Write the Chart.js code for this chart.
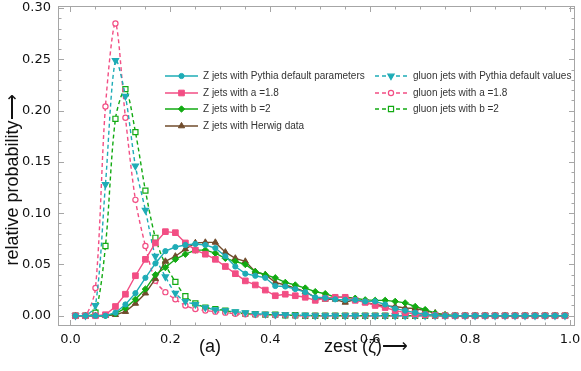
<!DOCTYPE html>
<html lang="en">
<head>
<meta charset="UTF-8">
<title>zest distributions</title>
<script src="https://cdn.jsdelivr.net/npm/chart.js"></script>
<style>
  html, body { margin: 0; padding: 0; background: #fff; }
  #wrap { width: 581px; height: 371px; }
</style>
</head>
<body>
<div id="wrap"><canvas id="c" width="581" height="371"></canvas></div>
<script>
// bin centres (zest)
const zest = [0.01, 0.03, 0.05, 0.07, 0.09, 0.11, 0.13, 0.15, 0.17, 0.19,
              0.21, 0.23, 0.25, 0.27, 0.29, 0.31, 0.33, 0.35, 0.37, 0.39,
              0.41, 0.43, 0.45, 0.47, 0.49, 0.51, 0.53, 0.55, 0.57, 0.59,
              0.61, 0.63, 0.65, 0.67, 0.69, 0.71, 0.73, 0.75, 0.77, 0.79,
              0.81, 0.83, 0.85, 0.87, 0.89, 0.91, 0.93, 0.95, 0.97, 0.99];

// Z jets (solid)
const zPythia = [0, 0, 0, 0, 0.003, 0.011, 0.022, 0.037, 0.051, 0.063,
                 0.067, 0.069, 0.070, 0.069, 0.066, 0.058, 0.048, 0.041, 0.039, 0.037,
                 0.029, 0.0285, 0.026, 0.023, 0.018, 0.0175, 0.016, 0.0155, 0.0155, 0.014,
                 0.014, 0.011, 0.007, 0.005, 0.003, 0.0015, 0.0005, 0, 0, 0,
                 0, 0, 0, 0, 0, 0, 0, 0, 0, 0];
const zA18 = [0, 0, 0, 0.001, 0.009, 0.021, 0.039, 0.055, 0.071, 0.082,
              0.081, 0.071, 0.064, 0.060, 0.055, 0.048, 0.041, 0.034, 0.030, 0.025,
              0.0195, 0.021, 0.0195, 0.018, 0.015, 0.017, 0.018, 0.018, 0.015, 0.013,
              0.010, 0.008, 0.005, 0.003, 0.002, 0.001, 0.0005, 0, 0, 0,
              0, 0, 0, 0, 0, 0, 0, 0, 0, 0];
const zB2 = [0, 0, 0, 0, 0.002, 0.0075, 0.016, 0.026, 0.040, 0.047,
             0.055, 0.060, 0.064, 0.064, 0.061, 0.056, 0.053, 0.050, 0.043, 0.040,
             0.037, 0.0325, 0.030, 0.027, 0.0235, 0.0215, 0.018, 0.018, 0.017, 0.0155,
             0.015, 0.015, 0.014, 0.0125, 0.009, 0.006, 0.0026, 0.001, 0, 0,
             0, 0, 0, 0, 0, 0, 0, 0, 0, 0];
const zHerwig = [0, 0, 0, 0, 0.001, 0.004, 0.012, 0.022, 0.036, 0.053,
                 0.058, 0.065, 0.071, 0.0715, 0.0715, 0.062, 0.056, 0.053, 0.043, 0.040,
                 0.0325, 0.030, 0.027, 0.0235, 0.018, 0.016, 0.016, 0.013, 0.016, 0.013,
                 0.011, 0.0095, 0.009, 0.0075, 0.007, 0.005, 0.0026, 0.0005, 0, 0,
                 0, 0, 0, 0, 0, 0, 0, 0, 0, 0];

// gluon jets (dashed)
const gPythia = [0, 0, 0.010, 0.128, 0.249, 0.214, 0.146, 0.103, 0.058, 0.038,
                 0.022, 0.014, 0.011, 0.008, 0.006, 0.005, 0.004, 0.003, 0.002, 0.0015,
                 0.001, 0.001, 0.0005, 0.0005, 0, 0, 0, 0, 0, 0,
                 0, 0, 0, 0, 0, 0, 0, 0, 0, 0,
                 0, 0, 0, 0, 0, 0, 0, 0, 0, 0];
const gA18 = [0, 0, 0.027, 0.204, 0.285, 0.193, 0.113, 0.068, 0.034, 0.023,
              0.016, 0.010, 0.0065, 0.005, 0.004, 0.003, 0.002, 0.0015, 0.001, 0.001,
              0.0005, 0.0005, 0, 0, 0, 0, 0, 0, 0, 0,
              0, 0, 0, 0, 0, 0, 0, 0, 0, 0,
              0, 0, 0, 0, 0, 0, 0, 0, 0, 0];
const gB2 = [0, 0, 0.003, 0.068, 0.192, 0.221, 0.179, 0.122, 0.076, 0.050,
             0.033, 0.019, 0.012, 0.008, 0.0065, 0.005, 0.003, 0.002, 0.0015, 0.001,
             0.001, 0.0005, 0.0005, 0, 0, 0, 0, 0, 0, 0,
             0, 0, 0, 0, 0, 0, 0, 0, 0, 0,
             0, 0, 0, 0, 0, 0, 0, 0, 0, 0];

const seriesLabels = ['Z jets with Pythia default parameters', 'Z jets with a =1.8',
                      'Z jets with b =2', 'Z jets with Herwig data',
                      'gluon jets with Pythia default values', 'gluon jets with a =1.8',
                      'gluon jets with b =2'];

const xTicks = [0, 0.2, 0.4, 0.6, 0.8, 1.0];
const yTicks = [0, 0.05, 0.10, 0.15, 0.20, 0.25, 0.30];
const xMinor = [0.05, 0.1, 0.15, 0.25, 0.3, 0.35, 0.45, 0.5, 0.55, 0.65, 0.7, 0.75, 0.85, 0.9, 0.95];
const yMinor = [0.01, 0.02, 0.03, 0.04, 0.06, 0.07, 0.08, 0.09, 0.11, 0.12, 0.13, 0.14,
                0.16, 0.17, 0.18, 0.19, 0.21, 0.22, 0.23, 0.24, 0.26, 0.27, 0.28, 0.29];

const CYAN = 'rgb(30,172,182)';
const PINK = 'rgb(242,78,132)';
const GREEN = 'rgb(18,170,18)';
const BROWN = 'rgb(112,76,44)';

function pts(vals) {
    return vals.map((v, i) => ({ x: zest[i], y: v }));
}

function solid(label, vals, color, style, r) {
    return {
        label, data: pts(vals), borderColor: color, backgroundColor: color,
        borderWidth: 1.4, pointStyle: style, pointRadius: r, pointHoverRadius: r,
        pointBackgroundColor: color, pointBorderColor: color, pointBorderWidth: 1,
        tension: 0
    };
}

function dashed(label, vals, color, style, r, fill, rot) {
    return {
        label, data: pts(vals), borderColor: color, backgroundColor: color,
        borderWidth: 1.4, borderDash: [4, 3], pointStyle: style, pointRadius: r,
        pointHoverRadius: r, pointRotation: rot || 0,
        pointBackgroundColor: fill, pointBorderColor: color, pointBorderWidth: 1.2,
        tension: 0.3
    };
}

const datasets = [
    solid(seriesLabels[0], zPythia, CYAN, 'circle', 2.6),
    solid(seriesLabels[1], zA18, PINK, 'rect', 4),
    solid(seriesLabels[2], zB2, GREEN, 'rectRot', 3.2),
    solid(seriesLabels[3], zHerwig, BROWN, 'triangle', 3.6),
    dashed(seriesLabels[4], gPythia, CYAN, 'triangle', 3.6, CYAN, 180),
    dashed(seriesLabels[5], gA18, PINK, 'circle', 2.6, '#fff'),
    dashed(seriesLabels[6], gB2, GREEN, 'rect', 3.6, '#fff')
];

// frame with inward ticks (Mathematica style)
const framePlugin = {
    id: 'frame',
    beforeDatasetsDraw(chart) {
        const { ctx, chartArea: a, scales: { x, y } } = chart;
        ctx.save();
        ctx.strokeStyle = '#a6a6a6';
        ctx.lineWidth = 1;
        ctx.strokeRect(Math.round(a.left) + 0.5, Math.round(a.top) + 0.5,
                       Math.round(a.right - a.left) - 1, Math.round(a.bottom - a.top) - 1);
        ctx.beginPath();
        const xt = (v, len) => {
            const px = Math.round(x.getPixelForValue(v)) + 0.5;
            ctx.moveTo(px, a.bottom); ctx.lineTo(px, a.bottom - len);
            ctx.moveTo(px, a.top); ctx.lineTo(px, a.top + len);
        };
        const yt = (v, len) => {
            const py = Math.round(y.getPixelForValue(v)) + 0.5;
            ctx.moveTo(a.left, py); ctx.lineTo(a.left + len, py);
            ctx.moveTo(a.right, py); ctx.lineTo(a.right - len, py);
        };
        xTicks.forEach(v => xt(v, 6));
        xMinor.forEach(v => xt(v, 3.5));
        yTicks.forEach(v => yt(v, 6));
        yMinor.forEach(v => yt(v, 3.5));
        ctx.stroke();
        ctx.restore();
    },
    afterDraw(chart) {
        const { ctx } = chart;
        ctx.save();
        ctx.fillStyle = '#111';
        ctx.font = '18px "Liberation Sans", Arial, sans-serif';
        ctx.textBaseline = 'middle';
        ctx.textAlign = 'center';
        ctx.fillText('(a)', 210, 347);
        ctx.fillText('zest (\u03b6)\u27f6', 366, 347);
        ctx.translate(13, 180);
        ctx.rotate(-Math.PI / 2);
        ctx.fillText('relative probability\u27f6', 0, 0);
        ctx.restore();
    }
};

// two-column legend inside the plot
const legendCols = [
    { x0: 165, x1: 198, tx: 203, items: [0, 1, 2, 3] },
    { x0: 375, x1: 407, tx: 413, items: [4, 5, 6] }
];
const legendRows = [76, 93, 109, 126];

const legendPlugin = {
    id: 'boxLegend',
    afterDatasetsDraw(chart) {
        const { ctx } = chart;
        ctx.save();
        ctx.font = '10px "Liberation Sans", Arial, sans-serif';
        ctx.textBaseline = 'middle';
        legendCols.forEach(col => {
            col.items.forEach((di, row) => {
                const ds = chart.data.datasets[di];
                const yy = legendRows[row];
                ctx.strokeStyle = ds.borderColor;
                ctx.lineWidth = ds.borderWidth;
                ctx.setLineDash(ds.borderDash || []);
                ctx.beginPath();
                ctx.moveTo(col.x0, yy); ctx.lineTo(col.x1, yy);
                ctx.stroke();
                ctx.setLineDash([]);
                ctx.fillStyle = ds.pointBackgroundColor;
                ctx.strokeStyle = ds.pointBorderColor;
                ctx.lineWidth = ds.pointBorderWidth;
                Chart.helpers.drawPoint(ctx, {
                    pointStyle: ds.pointStyle, rotation: ds.pointRotation || 0,
                    radius: ds.pointRadius, borderWidth: ds.pointBorderWidth
                }, (col.x0 + col.x1) / 2, yy);
                ctx.fillStyle = '#333';
                ctx.fillText(ds.label, col.tx, yy);
            });
        });
        ctx.restore();
    }
};

const tickFont = { family: '"DejaVu Sans", sans-serif', size: 13 };

new Chart(document.getElementById('c'), {
    type: 'line',
    data: { datasets },
    options: {
        responsive: false,
        animation: false,
        devicePixelRatio: 1,
        layout: { padding: { top: 6, right: 6, left: 0, bottom: 0 } },
        plugins: { legend: { display: false }, tooltip: { enabled: false } },
        scales: {
            x: {
                type: 'linear', min: -0.025, max: 1.01,
                grid: { display: false, drawTicks: false },
                border: { display: false },
                ticks: { font: tickFont, color: '#111', padding: 6,
                         callback: v => v.toFixed(1) },
                afterBuildTicks: s => { s.ticks = xTicks.map(v => ({ value: v })); },
                afterFit: s => { s.height = 45; s.paddingLeft = 0; s.paddingRight = 0; }
            },
            y: {
                type: 'linear', min: -0.01, max: 0.302,
                grid: { display: false, drawTicks: false },
                border: { display: false },
                ticks: { font: tickFont, color: '#111', padding: 7,
                         callback: v => v.toFixed(2) },
                afterBuildTicks: s => { s.ticks = yTicks.map(v => ({ value: v })); },
                afterFit: s => { s.width = 58; s.paddingTop = 0; s.paddingBottom = 0; }
            }
        }
    },
    plugins: [framePlugin, legendPlugin]
});
</script>
</body>
</html>
